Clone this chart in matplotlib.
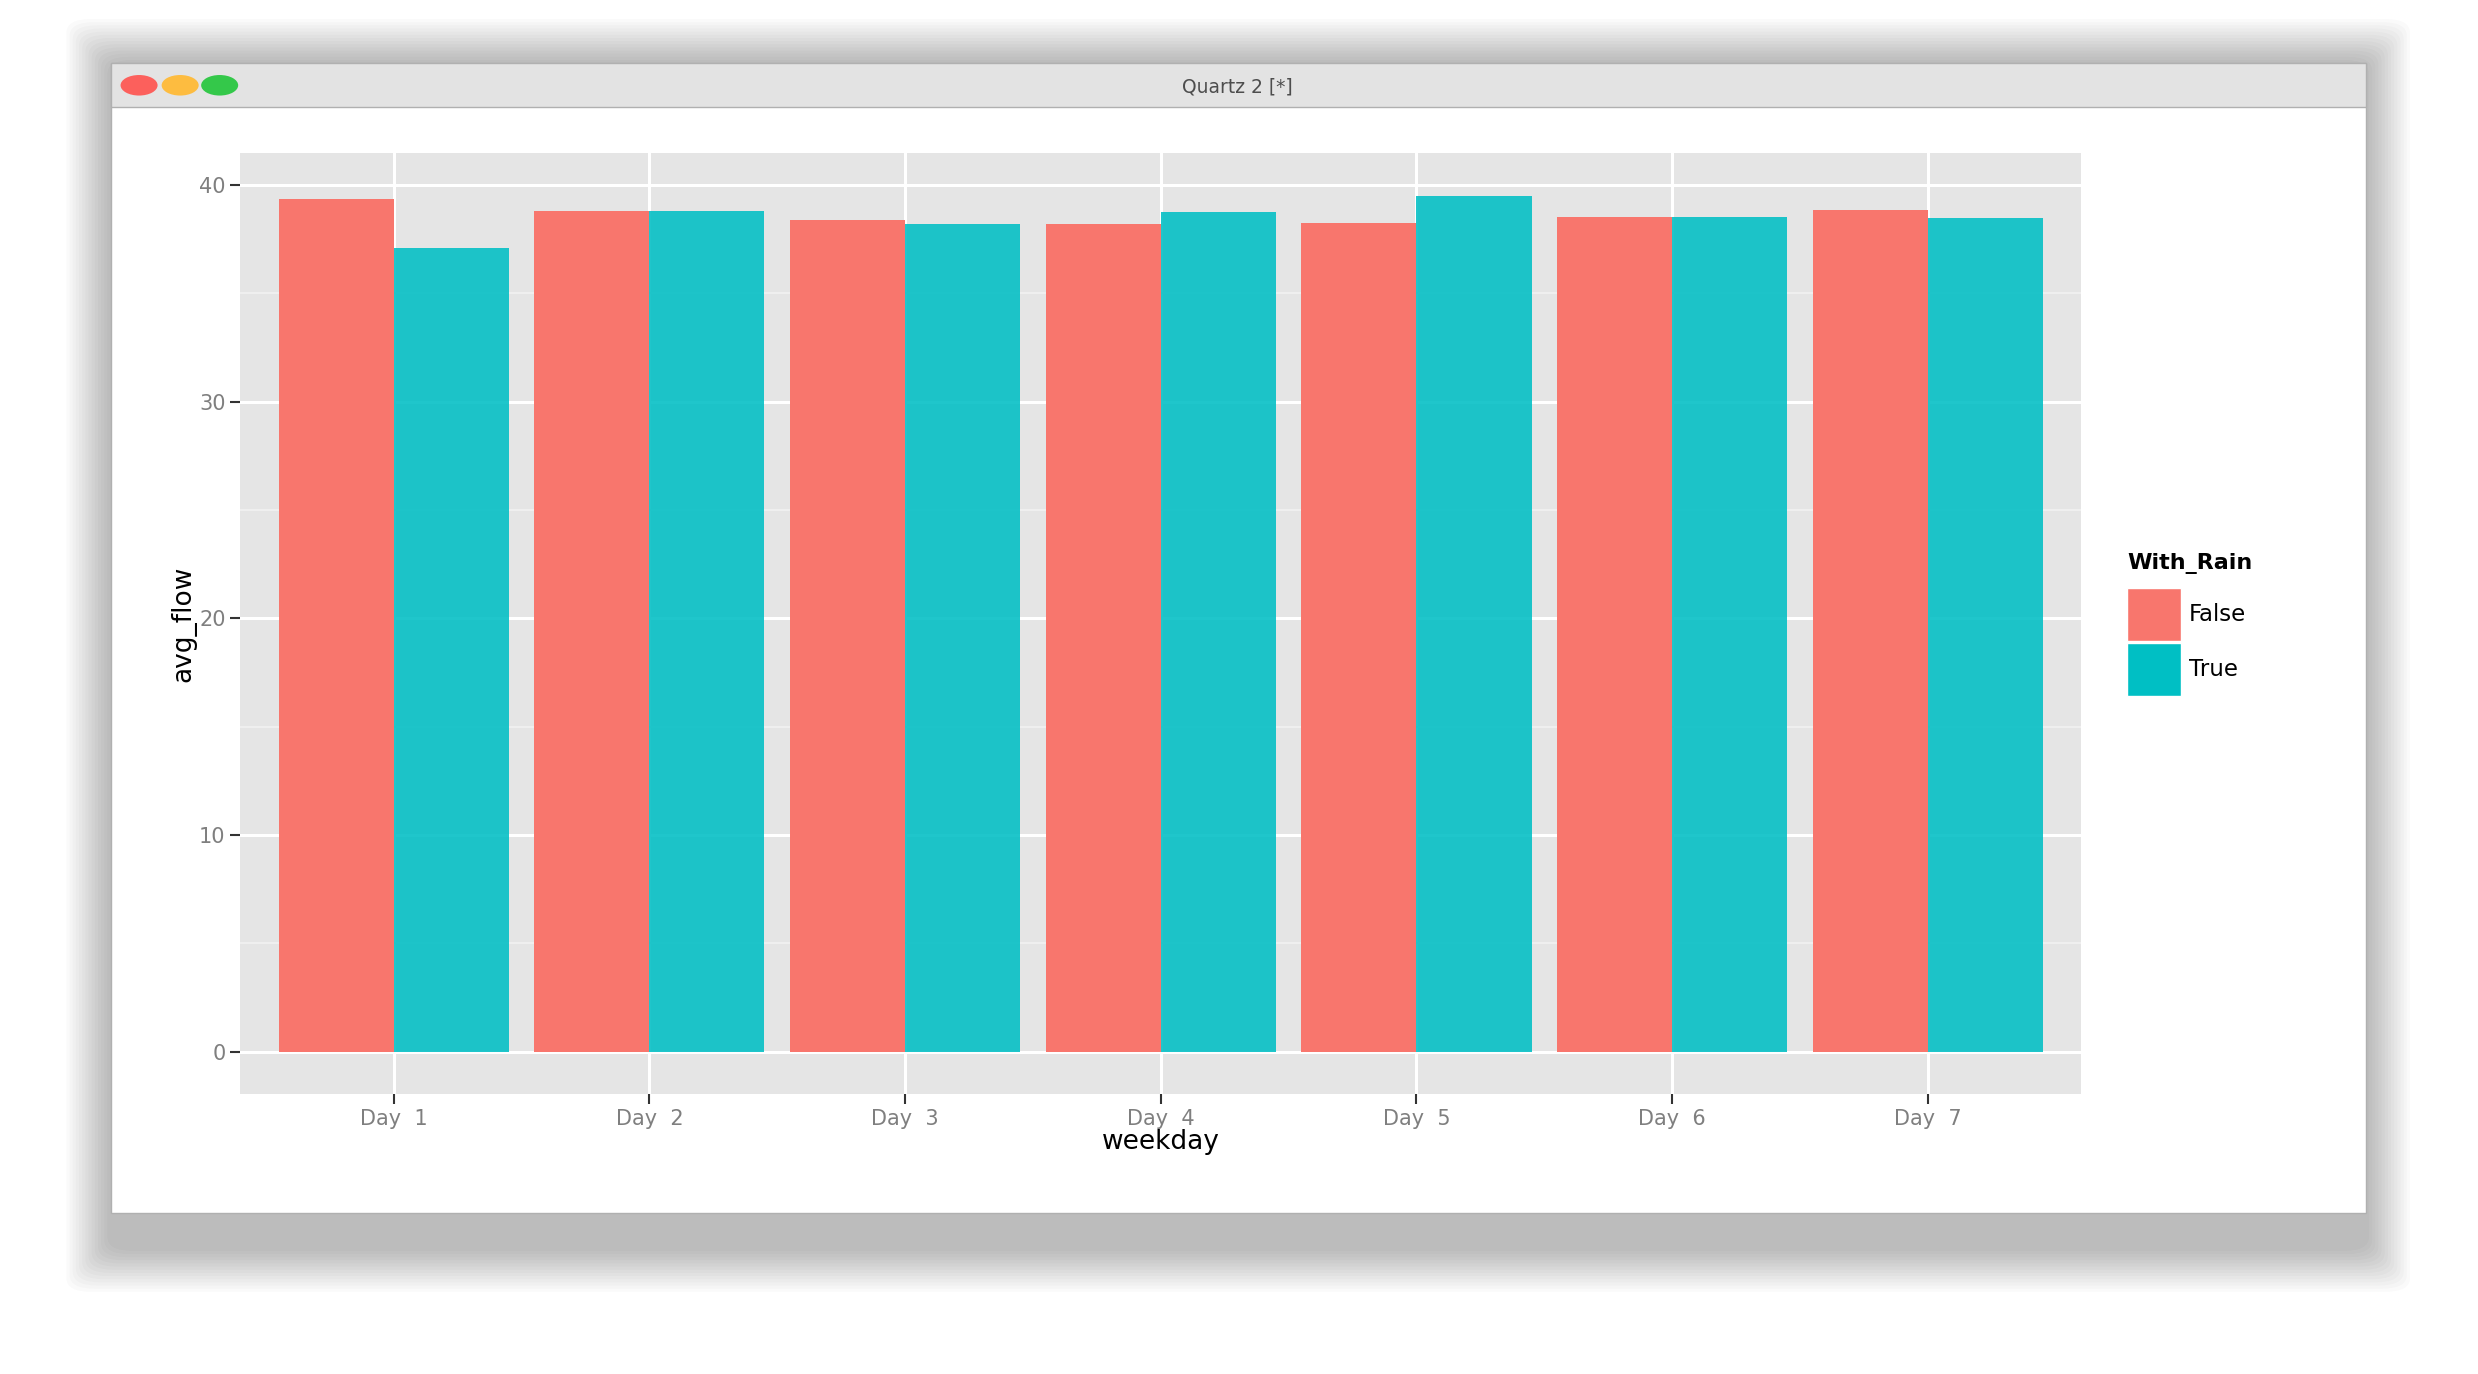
import numpy as np
import matplotlib.pyplot as plt
from matplotlib.patches import Rectangle, FancyBboxPatch, Circle

days = ['Day  1', 'Day  2', 'Day  3', 'Day  4', 'Day  5', 'Day  6', 'Day  7']
flow_false = [39.34, 38.78, 38.40, 38.18, 38.25, 38.50, 38.83]
flow_true = [37.09, 38.78, 38.18, 38.76, 39.49, 38.50, 38.47]
yticks = [0, 10, 20, 30, 40]

W, H = 1568.0, 870.0
def fx(x): return x / W
def fy(y): return 1 - y / H

fig = plt.figure(figsize=(24.78, 13.74), dpi=100)
fig.patch.set_facecolor('white')

# window shadow
for i in range(14):
    g = 14 - i
    fig.patches.append(FancyBboxPatch((fx(70 - g * 2), fy(790 + g * 2)), fx(1427 + g * 4), (790 - 40 + g * 4) / H,
                                      boxstyle='round,pad=0,rounding_size=0.01', transform=fig.transFigure,
                                      facecolor='black', edgecolor='none', alpha=0.018, zorder=0))
# window
fig.patches.append(Rectangle((fx(70), fy(768)), fx(1427), (768 - 40) / H, transform=fig.transFigure,
                             facecolor='white', edgecolor='#b0b0b0', lw=1, zorder=1))
fig.patches.append(Rectangle((fx(70), fy(68)), fx(1427), 28 / H, transform=fig.transFigure,
                             facecolor='#e3e3e3', edgecolor='#b0b0b0', lw=1, zorder=2))
for cx, col in [(88, '#fc605c'), (114, '#fdbc40'), (139, '#34c84a')]:
    fig.patches.append(Circle((fx(cx), fy(54)), 6.5 / H, transform=fig.transFigure,
                              facecolor=col, edgecolor='none', zorder=3))
fig.text(fx(783), fy(55), 'Quartz 2 [*]', ha='center', va='center', fontsize=13.5, color='#4d4d4d', zorder=4)

ax = fig.add_axes([fx(152), fy(693), fx(1165), (693 - 97) / H])
ax.set_zorder(5)
ax.set_facecolor('#e5e5e5')
x = np.arange(1, 8)
ax.bar(x - 0.225, flow_false, width=0.45, color='#f8766d', zorder=3)
ax.bar(x + 0.225, flow_true, width=0.45, color='#00bfc4', zorder=3, alpha=0.88)
ax.set_xlim(0.4, 7.6)
ax.set_ylim(-1.97, 41.46)
ax.set_xticks(x)
ax.set_xticklabels(days)
ax.set_yticks(yticks)
ax.set_yticks([5, 15, 25, 35], minor=True)
ax.grid(which='major', color='white', lw=2.2, zorder=1)
ax.grid(which='minor', axis='y', color='#f2f2f2', lw=1.2, zorder=1)
ax.tick_params(which='major', colors='#333333', labelcolor='#7f7f7f', labelsize=15, length=7, width=1.5)
ax.tick_params(which='minor', length=0)
for s in ax.spines.values():
    s.set_visible(False)
ax.set_xlabel('weekday', fontsize=19, labelpad=0)
ax.set_ylabel('avg_flow', fontsize=19, labelpad=2)

# legend
fig.text(fx(1346), fy(357), 'With_Rain', ha='left', va='center', fontsize=16, fontweight='bold')
for yy, col, lab in [(372, '#f8766d', 'False'), (407, '#00bfc4', 'True')]:
    fig.patches.append(Rectangle((fx(1346), fy(yy + 34)), fx(34), 34 / H, transform=fig.transFigure,
                                 facecolor=col, edgecolor='white', lw=1, zorder=6))
    fig.text(fx(1385), fy(yy + 17), lab, ha='left', va='center', fontsize=16.5)

fig.savefig('out.png', dpi=100)
